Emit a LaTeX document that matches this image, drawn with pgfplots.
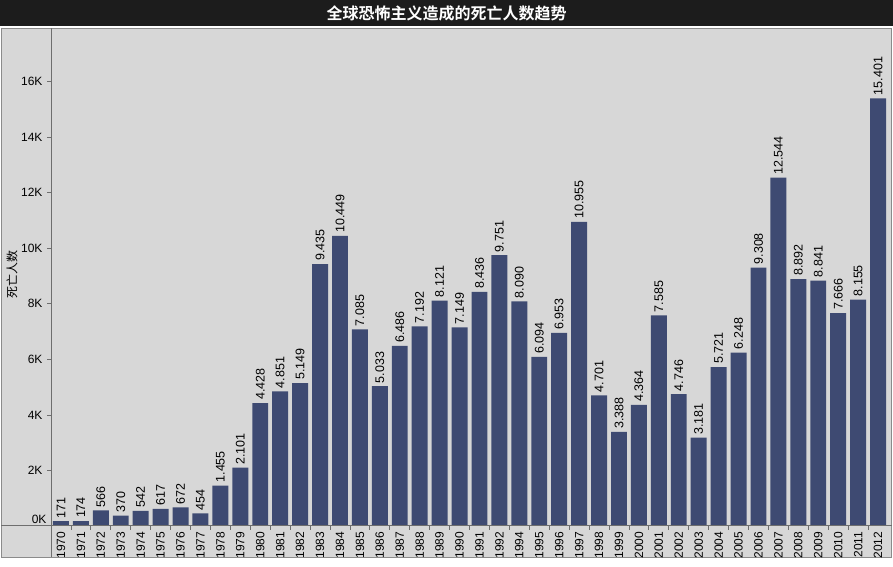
\documentclass[border=0pt]{standalone}
\usepackage{pgfplots}
\pgfplotsset{compat=1.18}
\usepackage{fontspec}
\setmainfont{Liberation Sans}
\newfontfamily\cjk{Noto Sans CJK SC}[BoldFont={Noto Sans CJK SC Bold}]
\definecolor{bgray}{HTML}{D7D7D7}
\definecolor{barc}{HTML}{3E4A72}
\definecolor{titlec}{HTML}{1C1C1C}
\definecolor{linec}{HTML}{6E6E6E}
\pgfplotstableread{
i v
0 171
1 174
2 566
3 370
4 542
5 617
6 672
7 454
8 1455
9 2101
10 4428
11 4851
12 5149
13 9435
14 10449
15 7085
16 5033
17 6486
18 7192
19 8121
20 7149
21 8436
22 9751
23 8090
24 6094
25 6953
26 10955
27 4701
28 3388
29 4364
30 7585
31 4746
32 3181
33 5721
34 6248
35 9308
36 12544
37 8892
38 8841
39 7666
40 8155
41 15401
}\deaths
\begin{document}
\begin{tikzpicture}[x=1bp,y=1bp]
\useasboundingbox (0,0) rectangle (893,567);
\fill[white] (0,0) rectangle (893,567);
\fill[titlec] (0,541) rectangle (893,567);
\filldraw[fill=bgray,draw=linec!80,line width=1bp] (1,9.5) rectangle (891.5,538.5);
\node[text=white,font={\cjk\bfseries\fontsize{16bp}{18bp}\selectfont}] at (446.5,554) {全球恐怖主义造成的死亡人数趋势};
\node[rotate=90,font={\cjk\fontsize{12bp}{14bp}\selectfont}] at (12,292) {死亡人数};
\begin{axis}[
  at={(51bp,41bp)}, anchor=south west,
  scale only axis, width=838bp, height=497bp,
  xmin=-0.5, xmax=41.55, ymin=0, ymax=17900,
  axis line style={draw=none},
  ybar, bar width=0.8,
  scaled y ticks=false,
  ytick={2000,4000,6000,8000,10000,12000,14000,16000},
  yticklabels={2K,4K,6K,8K,10K,12K,14K,16K},
  extra y ticks={0},
  extra y tick labels={0K},
  extra y tick style={yticklabel style={yshift=7bp}, major tick length=0pt},
  xtick={0,...,41},
  xticklabels={1970,1971,1972,1973,1974,1975,1976,1977,1978,1979,1980,1981,1982,1983,1984,1985,1986,1987,1988,1989,1990,1991,1992,1994,1995,1996,1997,1998,1999,2000,2001,2002,2003,2004,2005,2006,2007,2008,2009,2010,2011,2012},
  minor xtick={0.5,1.5,...,40.5},
  tick pos=left, tick align=outside,
  major tick length=4bp, minor tick length=4bp,
  xtick style={draw=none},
  minor x tick style={draw=linec,line width=0.8bp},
  ytick style={draw=linec,line width=0.8bp},
  x tick label style={rotate=90, anchor=east, font=\fontsize{12bp}{14bp}\selectfont, inner sep=1.5bp},
  y tick label style={font=\fontsize{12bp}{14bp}\selectfont, xshift=-1bp},
  nodes near coords,
  point meta=y,
  nodes near coords style={font=\fontsize{12.5bp}{14bp}\selectfont, rotate=90, anchor=west, inner sep=3bp,
    /pgf/number format/.cd, fixed, precision=0, 1000 sep={.}, assume math mode=true},
  clip=false,
]
\addplot[fill=barc, draw=none] table[x=i,y=v] {\deaths};
\end{axis}
\draw[linec,line width=1bp] (1,41) -- (891.5,41);
\draw[linec,line width=1bp] (51,9.5) -- (51,538.5);
\end{tikzpicture}
\end{document}
